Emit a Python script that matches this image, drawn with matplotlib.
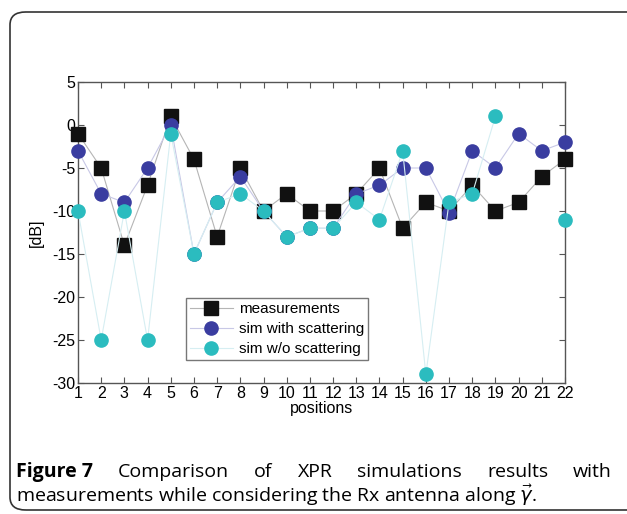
import matplotlib.pyplot as plt
from matplotlib.patches import FancyBboxPatch
import numpy as np

plt.rcParams['font.family'] = ['Liberation Sans', 'DejaVu Sans']
plt.rcParams['axes.unicode_minus'] = False

positions = list(range(1, 23))
measurements = [-1, -5, -14, -7, 1, -4, -13, -5, -10, -8, -10,
                -10, -8, -5, -12, -9, -10, -7, -10, -9, -6, -4]
sim_scatter = [-3, -8, -9, -5, 0, -15, -9, -6, -10, -13, -12,
               -12, -8, -7, -5, -5, -10.2, -3, -5, -1, -3, -2]
sim_noscatter = [-10, -25, -10, -25, -1, -15, -9, -8, -10, -13, -12,
                 -12, -9, -11, -3, -29, -9, -8, 1, np.nan, np.nan, -11]

fig = plt.figure(figsize=(6.27, 5.14), dpi=100)

# rounded frame around the figure panel
frame = FancyBboxPatch((10 / 627, 4 / 514), 640 / 627, 498 / 514,
                       boxstyle='round,pad=0,rounding_size=0.025',
                       transform=fig.transFigure, fill=False,
                       edgecolor='#333333', linewidth=1.2, clip_on=False)
fig.patches.append(frame)

ax = fig.add_axes([78 / 627, 1 - 383 / 514, 487 / 627, 301 / 514])

ax.plot(positions, measurements, color='#b5b5b5', lw=0.8, marker='s',
        ms=10, mfc='#111111', mec='#111111', label='measurements',
        zorder=3, clip_on=False)
ax.plot(positions, sim_scatter, color='#c8c8e6', lw=0.8, marker='o',
        ms=9.5, mfc='#3a3da0', mec='#3a3da0', label='sim with scattering',
        zorder=4, clip_on=False)
ax.plot(positions, sim_noscatter, color='#d6eef2', lw=0.8, marker='o',
        ms=9.5, mfc='#2bbcbf', mec='#2bbcbf', label='sim w/o scattering',
        zorder=5, clip_on=False)

ax.set_xlim(1, 22)
ax.set_ylim(-30, 5)
ax.set_xticks(positions)
ax.set_yticks(np.arange(-30, 6, 5))
ax.tick_params(direction='in', top=True, right=True, labelsize=11.5,
               length=4, width=0.8, color='#555555', pad=2)
for s in ax.spines.values():
    s.set_color('#555555')
    s.set_linewidth(1.0)
ax.set_xlabel('positions', fontsize=11.5, labelpad=0.5)
ax.set_ylabel('[dB]', fontsize=11.5, labelpad=6)

leg = ax.legend(loc='lower left', bbox_to_anchor=(0.222, 0.076), fontsize=11,
                frameon=True, fancybox=False, edgecolor='#555555',
                handlelength=2.8, borderpad=0.25, labelspacing=0.4,
                handletextpad=0.4, borderaxespad=0)
leg.get_frame().set_linewidth(1.0)

# caption, first line justified
cap_font = ['Open Sans', 'DejaVu Sans']
words = [('Figure 7', 'bold'), ('Comparison', 'normal'), ('of', 'normal'),
         ('XPR', 'normal'), ('simulations', 'normal'), ('results', 'normal'),
         ('with', 'normal')]
fig.canvas.draw()
renderer = fig.canvas.get_renderer()
texts = []
widths = []
for w, wt in words:
    t = fig.text(0, 0, w, fontsize=14, fontweight=wt, family=cap_font)
    bb = t.get_window_extent(renderer)
    widths.append(bb.width)
    texts.append(t)
x0, x1 = 16, 612
gap = (x1 - x0 - sum(widths)) / (len(words) - 1)
x = x0
for t, w in zip(texts, widths):
    t.set_position((x / 627, 1 - 477 / 514))
    x += w + gap

fig.text(16 / 627, 1 - 502 / 514,
         r'measurements while considering the Rx antenna along $\vec{\gamma}$.',
         fontsize=14, family=cap_font)

fig.savefig('out.png', dpi=100)
